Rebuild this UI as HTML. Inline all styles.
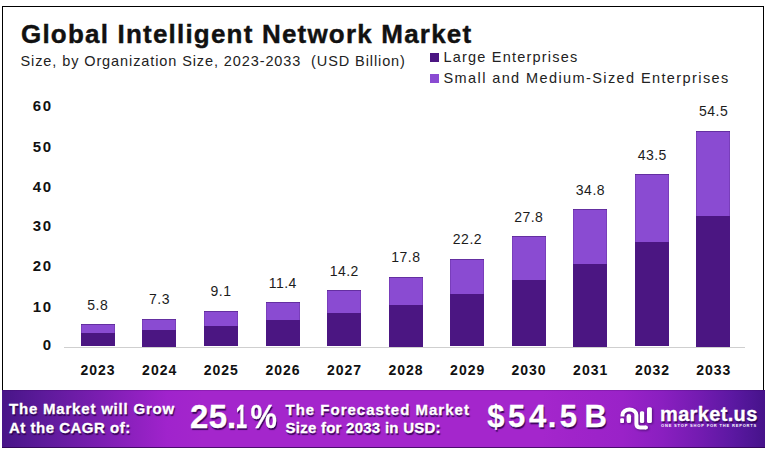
<!DOCTYPE html>
<html><head><meta charset="utf-8">
<style>
*{margin:0;padding:0;box-sizing:border-box}
html,body{width:768px;height:454px;overflow:hidden;background:#fff}
body{position:relative;font-family:"Liberation Sans",sans-serif;color:#111}
.a{position:absolute;white-space:nowrap;line-height:1}
#frame{position:absolute;left:2px;top:6px;width:762px;height:442px;border:1px solid #000;border-bottom:none}
#title{left:21px;top:20.5px;font-size:26px;font-weight:bold;color:#111;letter-spacing:1.2px;-webkit-text-stroke:.4px #111}
#sub{left:20.5px;top:53.5px;font-size:14.5px;color:#222;letter-spacing:0.9px}
.sq{position:absolute;width:9px;height:9px}
.leg{font-size:14.5px;color:#222;letter-spacing:1.2px}
.bar{position:absolute;width:34px}
.lt{background:#8a4bd2}
.bar.lt{box-shadow:inset 0 1px 0 rgba(70,25,120,.55),inset 1px 0 0 rgba(70,25,120,.25),inset -1px 0 0 rgba(70,25,120,.25)}
.dk{background:#4b1682}
.val{font-size:14px;color:#1c1c1c;width:60px;text-align:center;letter-spacing:.5px;padding-left:.5px}
.yr{font-size:14px;font-weight:bold;color:#111;width:60px;text-align:center;letter-spacing:1px;padding-left:1px}
.yl{font-size:15px;font-weight:bold;color:#111;width:40px;text-align:right;left:12.5px;letter-spacing:1.5px}
#axis{position:absolute;left:63.5px;top:347px;width:681px;height:1px;background:#cfcfcf}
#band{position:absolute;left:2px;top:389.5px;width:763px;height:58.5px;
background:linear-gradient(90deg,#481588 0px,#5c1a9a 40px,#7c1eb2 100px,#a023cc 165px,#a426cc 200px,#a426cc 540px,#a024ca 570px,#9a22c8 620px,#8a1fc0 660px,#721bb0 700px,#5c18a2 730px,#4e1594 750px,#46128a 763px);
box-shadow:inset 0 1px 0 rgba(50,0,80,.2),inset 0 -1px 0 rgba(40,0,70,.7)}
.bt{color:#fff;font-weight:bold;text-shadow:1px 1.5px 1px rgba(40,0,70,.85);-webkit-text-stroke:.3px #fff}
</style></head><body>
<div id="frame"></div>
<div class="a" id="title">Global Intelligent Network Market</div>
<div class="a" id="sub">Size, by Organization Size, 2023-2033&nbsp; (USD Billion)</div>

<div class="sq dk" style="left:430px;top:53px"></div>
<div class="a leg" id="leg1" style="left:443.5px;top:50px">Large Enterprises</div>
<div class="sq lt" style="left:430px;top:74px"></div>
<div class="a leg" id="leg2" style="left:443.5px;top:71px;letter-spacing:1.4px">Small and Medium-Sized Enterprises</div>

<div class="a yl" style="top:97.7px">60</div>
<div class="a yl" style="top:138.7px">50</div>
<div class="a yl" style="top:179.2px">40</div>
<div class="a yl" style="top:218px">30</div>
<div class="a yl" style="top:258.3px">20</div>
<div class="a yl" style="top:298.5px">10</div>
<div class="a yl" style="top:337.3px">0</div>

<div id="axis"></div>

<!-- bars -->
<div class="bar lt" style="left:80.5px;top:324.3px;height:9.1px"></div><div class="bar dk" style="left:80.5px;top:333.4px;height:13.1px"></div>
<div class="bar lt" style="left:142.2px;top:318.5px;height:11px"></div><div class="bar dk" style="left:142.2px;top:329.5px;height:17px"></div>
<div class="bar lt" style="left:203.8px;top:310.7px;height:14.9px"></div><div class="bar dk" style="left:203.8px;top:325.6px;height:20.9px"></div>
<div class="bar lt" style="left:265.5px;top:302.1px;height:17.7px"></div><div class="bar dk" style="left:265.5px;top:319.8px;height:26.7px"></div>
<div class="bar lt" style="left:327px;top:289.7px;height:23.2px"></div><div class="bar dk" style="left:327px;top:312.9px;height:33.6px"></div>
<div class="bar lt" style="left:388.6px;top:276.5px;height:28px"></div><div class="bar dk" style="left:388.6px;top:304.5px;height:42px"></div>
<div class="bar lt" style="left:450.2px;top:258.8px;height:35.1px"></div><div class="bar dk" style="left:450.2px;top:293.9px;height:52.6px"></div>
<div class="bar lt" style="left:511.5px;top:236.2px;height:43.4px"></div><div class="bar dk" style="left:511.5px;top:279.6px;height:66.9px"></div>
<div class="bar lt" style="left:573.2px;top:209.1px;height:54.9px"></div><div class="bar dk" style="left:573.2px;top:264px;height:82.5px"></div>
<div class="bar lt" style="left:635px;top:173.9px;height:67.9px"></div><div class="bar dk" style="left:635px;top:241.8px;height:104.7px"></div>
<div class="bar lt" style="left:696.3px;top:130.5px;height:85.5px"></div><div class="bar dk" style="left:696.3px;top:216px;height:130.5px"></div>

<!-- value labels -->
<div class="a val" style="left:67.5px;top:298px">5.8</div>
<div class="a val" style="left:129.2px;top:292px">7.3</div>
<div class="a val" style="left:190.8px;top:284px">9.1</div>
<div class="a val" style="left:252.5px;top:276px">11.4</div>
<div class="a val" style="left:314px;top:264px">14.2</div>
<div class="a val" style="left:375.6px;top:250px">17.8</div>
<div class="a val" style="left:437.2px;top:232px">22.2</div>
<div class="a val" style="left:498.5px;top:210px">27.8</div>
<div class="a val" style="left:560.2px;top:183px">34.8</div>
<div class="a val" style="left:622px;top:148px">43.5</div>
<div class="a val" style="left:683.3px;top:104px">54.5</div>

<!-- year labels -->
<div class="a yr" style="left:67.5px;top:363px">2023</div>
<div class="a yr" style="left:129.2px;top:363px">2024</div>
<div class="a yr" style="left:190.8px;top:363px">2025</div>
<div class="a yr" style="left:252.5px;top:363px">2026</div>
<div class="a yr" style="left:314px;top:363px">2027</div>
<div class="a yr" style="left:375.6px;top:363px">2028</div>
<div class="a yr" style="left:437.2px;top:363px">2029</div>
<div class="a yr" style="left:498.5px;top:363px">2030</div>
<div class="a yr" style="left:560.2px;top:363px">2031</div>
<div class="a yr" style="left:622px;top:363px">2032</div>
<div class="a yr" style="left:683.3px;top:363px">2033</div>

<div id="band"></div>
<div class="a bt" id="b1" style="left:9px;top:401px;font-size:15px;letter-spacing:.8px">The Market will Grow</div>
<div class="a bt" id="b1b" style="left:9px;top:420px;font-size:15px;letter-spacing:.5px">At the CAGR of:</div>
<div class="a bt" style="left:190px;top:400px;font-size:33px">2</div><div class="a bt" style="left:208.75px;top:400px;font-size:33px">5</div><div class="a bt" style="left:227px;top:400px;font-size:33px">.</div><div class="a bt" style="left:232.25px;top:400px;font-size:33px;transform:scaleX(.62);transform-origin:10px 0">1</div><div class="a bt" style="left:248.5px;top:400px;font-size:33px;transform:scaleX(.9);transform-origin:15px 0">%</div>
<div class="a bt" id="b3" style="left:285.5px;top:401.7px;font-size:15px;letter-spacing:1px">The Forecasted Market</div>
<div class="a bt" id="b3b" style="left:285.5px;top:419.5px;font-size:15px;letter-spacing:.25px">Size for 2033 in USD:</div>
<div class="a bt" style="left:487.2px;top:400.7px;font-size:31px">$</div><div class="a bt" style="left:508px;top:400.7px;font-size:31px">5</div><div class="a bt" style="left:529px;top:400.7px;font-size:31px">4</div><div class="a bt" style="left:547.8px;top:400.7px;font-size:31px">.</div><div class="a bt" style="left:559.7px;top:400.7px;font-size:31px">5</div><div class="a bt" style="left:584.5px;top:400.7px;font-size:31px">B</div>
<svg id="logo" style="position:absolute;left:616px;top:402px;filter:drop-shadow(1px 1px 1px rgba(40,0,70,.6))" width="40" height="32" viewBox="0 0 40 32">
<g fill="#fff">
<rect x="4.2" y="16.2" width="3.8" height="4.9" rx="1.2"/>
<rect x="10.6" y="12" width="4.5" height="9.1" rx="2.2"/>
<rect x="23.9" y="9.2" width="4.3" height="11.9" rx="1.5"/>
<rect x="31" y="5.3" width="4.9" height="15.8" rx="1.5"/>
</g>
<path d="M6.5 14.5 V13 A6.95 5.5 0 0 1 20.4 13 V22 Q20.4 25.4 24 25.4 H30" stroke="#fff" stroke-width="4" fill="none"/><circle cx="30" cy="25.4" r="2" fill="#fff"/>
</svg>
<div class="a bt" id="b5" style="left:660px;top:404px;font-size:20px;letter-spacing:.35px">market.us</div>
<div class="a" id="b6" style="left:661px;top:423.7px;font-size:4px;color:#fff;font-weight:bold;letter-spacing:.83px">ONE STOP SHOP FOR THE REPORTS</div>
</body></html>
